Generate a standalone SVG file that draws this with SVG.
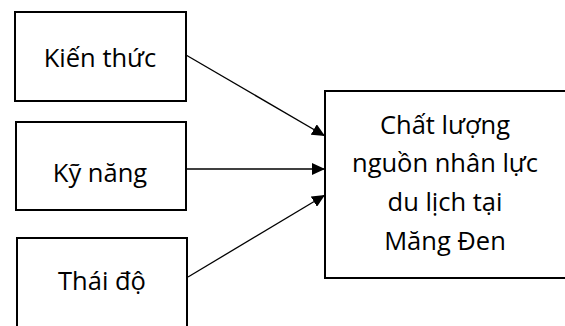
<svg xmlns="http://www.w3.org/2000/svg" width="565" height="326" viewBox="0 0 565 326">
<style>
.box{fill:#fff;stroke:#000;stroke-width:2}
.lbl{font-family:"Open Sans","Noto Sans","DejaVu Sans",sans-serif;font-size:25.5px;fill:#000;text-anchor:middle}
.conn{stroke:#000;stroke-width:1.3;fill:none}
</style>
<defs>
<marker id="ah" markerUnits="userSpaceOnUse" markerWidth="14" markerHeight="12" refX="13" refY="6" orient="auto">
<path d="M0,0 L13,6 L0,12 Z" fill="#000"/>
</marker>
</defs>
<rect width="565" height="326" fill="#fff"/>
<g id="n1">
<rect class="box" x="15" y="12" width="171" height="89"/>
<text class="lbl" x="100" y="67">Kiến thức</text>
</g>
<g id="n2">
<rect class="box" x="16" y="122" width="170" height="88"/>
<text class="lbl" x="100" y="182">Kỹ năng</text>
</g>
<g id="n3">
<rect class="box" x="17" y="238" width="170" height="100"/>
<text class="lbl" x="102" y="290">Thái độ</text>
</g>
<g id="n4">
<rect class="box" x="325" y="91" width="250" height="187"/>
<text class="lbl" x="445" y="134">Chất lượng</text>
<text class="lbl" x="445" y="172">nguồn nhân lực</text>
<text class="lbl" x="445" y="211">du lịch tại</text>
<text class="lbl" x="445" y="250">Măng Đen</text>
</g>
<g id="connectors">
<line class="conn" x1="186" y1="55" x2="325" y2="136" marker-end="url(#ah)"/>
<line class="conn" x1="187" y1="169" x2="325" y2="169" marker-end="url(#ah)"/>
<line class="conn" x1="188" y1="277" x2="325" y2="195" marker-end="url(#ah)"/>
</g>
</svg>
